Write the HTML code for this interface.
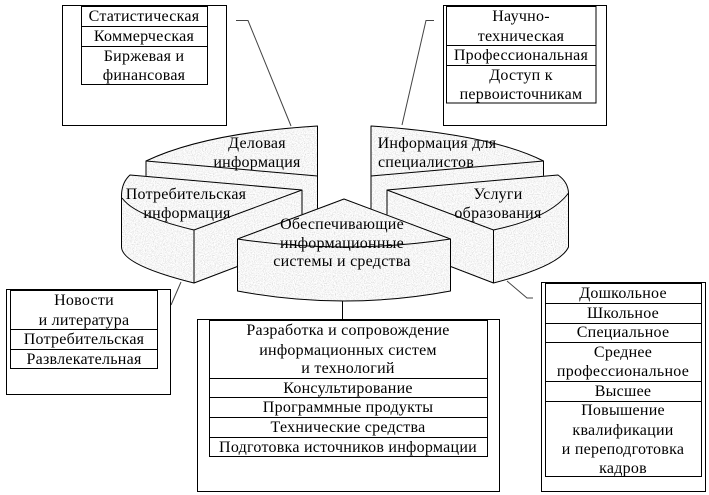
<!DOCTYPE html>
<html lang="ru"><head><meta charset="utf-8"><title>Диаграмма</title>
<style>html,body{margin:0;padding:0;background:#fff}svg{display:block}
text{font-family:"Liberation Serif","Noto Serif CJK SC",serif;font-size:16px;letter-spacing:.25px;fill:#000;text-anchor:middle}
.b{fill:#fff;stroke:#000;stroke-width:1}.l{fill:none;stroke:#000;stroke-width:1}
.s{fill:#fff;stroke:#000;stroke-width:1;stroke-linejoin:round;filter:url(#t)}.g{fill:none;stroke:#444;stroke-width:1}</style></head>
<body><svg width="709" height="495" viewBox="0 0 709 495" xmlns="http://www.w3.org/2000/svg">
<defs>
<filter id="t" filterUnits="userSpaceOnUse" x="0" y="0" width="709" height="495" color-interpolation-filters="sRGB">
<feTurbulence type="fractalNoise" baseFrequency="0.9" numOctaves="2" seed="4" result="r"/>
<feColorMatrix in="r" type="matrix" values="0.35 0 0 0 0.79  0.35 0 0 0 0.79  0.35 0 0 0 0.79  0 0 0 0 1" result="c"/>
<feComposite in="c" in2="SourceAlpha" operator="in" result="m"/>
<feBlend in="SourceGraphic" in2="m" mode="multiply"/>
</filter>
</defs>
<rect width="709" height="495" fill="#fff"/>

<!-- leaders -->
<path class="g" d="M236 20.5H248L291 126"/>
<path class="g" d="M434 20.5H426L402 125"/>
<path class="g" d="M181 282L171 305"/>
<path class="g" d="M507 281L527 298H533"/>
<path class="l" d="M342.500 301V320"/>

<!-- boxes -->
<rect class="b" x="62.500" y="5.500" width="164" height="120"/>
<rect class="b" x="81.500" y="6.500" width="126" height="78"/>
<path class="l" d="M81 26.500H207M81 46.500H207"/>
<rect class="b" x="443.500" y="5.500" width="163" height="120"/>
<rect class="b" x="446.500" y="6.500" width="149.500" height="96.500"/>
<path class="l" d="M446 45.500H596M446 65.500H596"/>
<rect class="b" x="6.500" y="289.500" width="164" height="105"/>
<rect class="b" x="10.500" y="290.500" width="147" height="78"/>
<path class="l" d="M10 329.500H157M10 349.500H157"/>
<rect class="b" x="197.500" y="319.500" width="302" height="172"/>
<rect class="b" x="209.500" y="320.500" width="278" height="136"/>
<path class="l" d="M209 378.500H487M209 397.500H487M209 417.500H487M209 437.500H487"/>
<rect class="b" x="541.500" y="282.500" width="164" height="209"/>
<rect class="b" x="545.500" y="283.500" width="156" height="193"/>
<path class="l" d="M545 303.500H701M545 323.500H701M545 342.500H701M545 381.500H701M545 401.500H701"/>

<text x="144" y="21">Статистическая</text>
<text x="144" y="41">Коммерческая</text>
<text x="144" y="61">Биржевая и</text>
<text x="144" y="80">финансовая</text>
<text x="521" y="21">Научно-</text>
<text x="521" y="41">техническая</text>
<text x="521" y="60">Профессиональная</text>
<text x="521" y="80">Доступ к</text>
<text x="521" y="99">первоисточникам</text>
<text x="84" y="305">Новости</text>
<text x="84" y="325">и литература</text>
<text x="84" y="344">Потребительская</text>
<text x="84" y="364">Развлекательная</text>
<text x="348" y="335">Разработка и сопровождение</text>
<text x="348" y="355">информационных систем</text>
<text x="348" y="373">и технологий</text>
<text x="348" y="393">Консультирование</text>
<text x="348" y="412">Программные продукты</text>
<text x="348" y="432">Технические средства</text>
<text x="348" y="452">Подготовка источников информации</text>
<text x="623" y="298">Дошкольное</text>
<text x="623" y="318">Школьное</text>
<text x="623" y="337">Специальное</text>
<text x="623" y="357">Среднее</text>
<text x="623" y="376">профессиональное</text>
<text x="623" y="396">Высшее</text>
<text x="623" y="415">Повышение</text>
<text x="623" y="435">квалификации</text>
<text x="623" y="454">и переподготовка</text>
<text x="623" y="473">кадров</text>

<!-- left back slice -->
<path class="s" d="M146 161Q205 133 317.500 126V220H146Z"/>
<path class="l" d="M146 161L317.500 176"/>
<text x="257" y="148">Деловая</text>
<text x="257" y="167">информация</text>

<!-- right back slice -->
<path class="s" d="M371 126Q490 134 543.500 161V220H371Z"/>
<path class="l" d="M371 176L543.500 161"/>
<text x="437" y="148">Информация для</text>
<text x="426" y="167">специалистов</text>

<!-- left front slice -->
<path class="s" d="M130 175L302 190V242L194 283Q122 265 121.500 247V198Q121 183 130 175Z"/>
<path class="l" d="M122 198Q135 216 194 230L302 190M194 230V283"/>
<text x="186" y="199">Потребительская</text>
<text x="187" y="218">информация</text>

<!-- right front slice -->
<path class="s" d="M387 190L558 175Q568 182 568.500 193V247Q560 266 493.500 283L387 242Z"/>
<path class="l" d="M387 190L493.500 230Q550 218 568.500 193M493.500 230V283"/>
<text x="498" y="199">Услуги</text>
<text x="498" y="218">образования</text>

<!-- centre slice -->
<path class="s" d="M344 199L450.500 239V291Q344 311 237.500 291V239Z"/>
<path class="l" d="M237.500 239Q344 255 450.500 239"/>
<text x="342" y="229">Обеспечивающие</text>
<text x="342" y="248">информационные</text>
<text x="342" y="266">системы и средства</text>
</svg></body></html>
